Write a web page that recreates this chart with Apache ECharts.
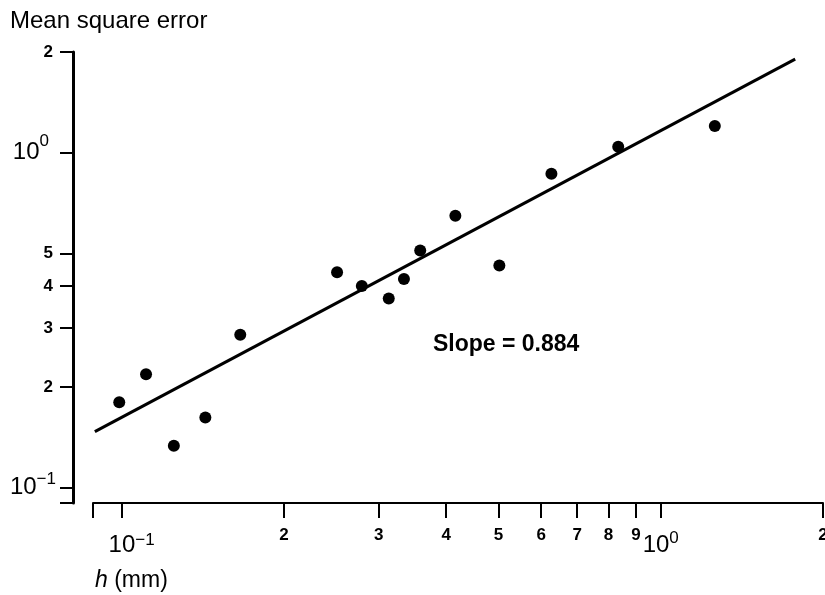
<!DOCTYPE html>
<html>
<head>
<meta charset="utf-8">
<script src="https://cdn.jsdelivr.net/npm/echarts@6/dist/echarts.min.js"></script>
<style>
  html, body { margin: 0; padding: 0; background: #fff; }
  #chart { width: 825px; height: 595px; }
</style>
</head>
<body>
<div id="chart"></div>
<script>
// measured points (h in mm, mean square error)
const hValues = [0.099, 0.111, 0.125, 0.143, 0.166, 0.251, 0.279, 0.313, 0.334, 0.358, 0.416, 0.502, 0.627, 0.834, 1.26];
const mseValues = [0.180, 0.218, 0.1335, 0.162, 0.286, 0.440, 0.400, 0.367, 0.420, 0.511, 0.649, 0.461, 0.866, 1.043, 1.202];
// fitted line end points
const fitH = [0.0892, 1.776];
const fitMse = [0.147, 1.905];

// axis ranges and ticks
const xRange = [0.0885, 2];
const yRange = [0.09, 2];
const xTickValues = [0.0885, 0.1, 0.2, 0.3, 0.4, 0.5, 0.6, 0.7, 0.8, 0.9, 1, 2];
const xLabelValues = [0.1, 0.2, 0.3, 0.4, 0.5, 0.6, 0.7, 0.8, 0.9, 1, 2];
const yTickValues = [0.09, 0.1, 0.2, 0.3, 0.4, 0.5, 1, 2];
const yLabelValues = [0.1, 0.2, 0.3, 0.4, 0.5, 1, 2];

const lg = v => Math.log10(v);
const FONT = 'Liberation Sans';

// log-space value -> label text
function tickText(v) {
  const r = Math.pow(10, v);
  if (Math.abs(r - 1) < 1e-6) return '{b|10}{s|0}';
  if (Math.abs(r - 0.1) < 1e-6) return '{bm|10}{sm|\u22121}';
  if (r >= 1) return '{d|' + Math.round(r) + '}';
  return '{d|' + Math.round(r * 10) + '}';
}

const chart = echarts.init(document.getElementById('chart'));

const option = {
  animation: false,
  backgroundColor: '#fff',
  title: [
    {
      text: 'Mean square error',
      left: 5,
      top: 4,
      textStyle: { fontFamily: FONT, fontSize: 24, fontWeight: 'normal', color: '#000' }
    },
    {
      text: '{i|h} (mm)',
      left: 90,
      top: 564,
      textStyle: {
        fontFamily: FONT, fontSize: 23, fontWeight: 'normal', color: '#000',
        rich: { i: { fontFamily: FONT, fontSize: 23, fontStyle: 'italic', color: '#000' } }
      }
    }
  ],
  grid: {
    left: 93,
    right: 2,
    top: 52,
    bottom: 92,
    containLabel: false,
    outerBoundsMode: 'none'
  },
  xAxis: {
    type: 'value',
    min: lg(xRange[0]),
    max: lg(xRange[1]),
    splitLine: { show: false },
    axisLine: { show: true, onZero: false, lineStyle: { color: '#000', width: 2 } },
    axisTick: {
      show: true,
      length: 15,
      customValues: xTickValues.map(lg),
      lineStyle: { color: '#000', width: 2 }
    },
    axisLabel: {
      customValues: xLabelValues.map(lg),
      margin: 23,
      color: '#000',
      formatter: tickText,
      rich: {
        d: { fontFamily: FONT, fontSize: 17, fontWeight: 'bold', lineHeight: 19, color: '#000' },
        b: { fontFamily: FONT, fontSize: 24, lineHeight: 24, padding: [15, 0, 0, 0], color: '#000' },
        s: { fontFamily: FONT, fontSize: 17, lineHeight: 17, verticalAlign: 'top', padding: [4, 0, 0, 0], color: '#000' },
        bm: { fontFamily: FONT, fontSize: 24, lineHeight: 24, padding: [15, 0, 0, 20], color: '#000' },
        sm: { fontFamily: FONT, fontSize: 17, lineHeight: 17, verticalAlign: 'top', padding: [6, 0, 0, 0], color: '#000' }
      }
    }
  },
  yAxis: {
    type: 'value',
    min: lg(yRange[0]),
    max: lg(yRange[1]),
    offset: 20,
    splitLine: { show: false },
    axisLine: { show: true, onZero: false, lineStyle: { color: '#000', width: 3 } },
    axisTick: {
      show: true,
      length: 13,
      customValues: yTickValues.map(lg),
      lineStyle: { color: '#000', width: 2 }
    },
    axisLabel: {
      customValues: yLabelValues.map(lg),
      margin: 17,
      color: '#000',
      formatter: tickText,
      rich: {
        d: { fontFamily: FONT, fontSize: 17, fontWeight: 'bold', lineHeight: 19, padding: [0, 3, 0, 0], color: '#000' },
        b: { fontFamily: FONT, fontSize: 24, lineHeight: 24, color: '#000' },
        s: { fontFamily: FONT, fontSize: 17, lineHeight: 17, padding: [0, 7, 22, 0], color: '#000' },
        bm: { fontFamily: FONT, fontSize: 24, lineHeight: 24, color: '#000' },
        sm: { fontFamily: FONT, fontSize: 17, lineHeight: 17, padding: [0, 0, 16, 0], color: '#000' }
      }
    }
  },
  graphic: [
    {
      type: 'text',
      left: 433,
      top: 333,
      style: {
        text: 'Slope = 0.884',
        font: 'bold 23px "Liberation Sans"',
        fill: '#000'
      }
    }
  ],
  series: [
    {
      name: 'fit',
      type: 'line',
      data: fitH.map((h, i) => [lg(h), lg(fitMse[i])]),
      showSymbol: false,
      lineStyle: { color: '#000', width: 3 },
      z: 2
    },
    {
      name: 'mse',
      type: 'scatter',
      data: hValues.map((h, i) => [lg(h), lg(mseValues[i])]),
      symbolSize: 12,
      itemStyle: { color: '#000', opacity: 1 },
      z: 3
    }
  ]
};

chart.setOption(option);
</script>
</body>
</html>
